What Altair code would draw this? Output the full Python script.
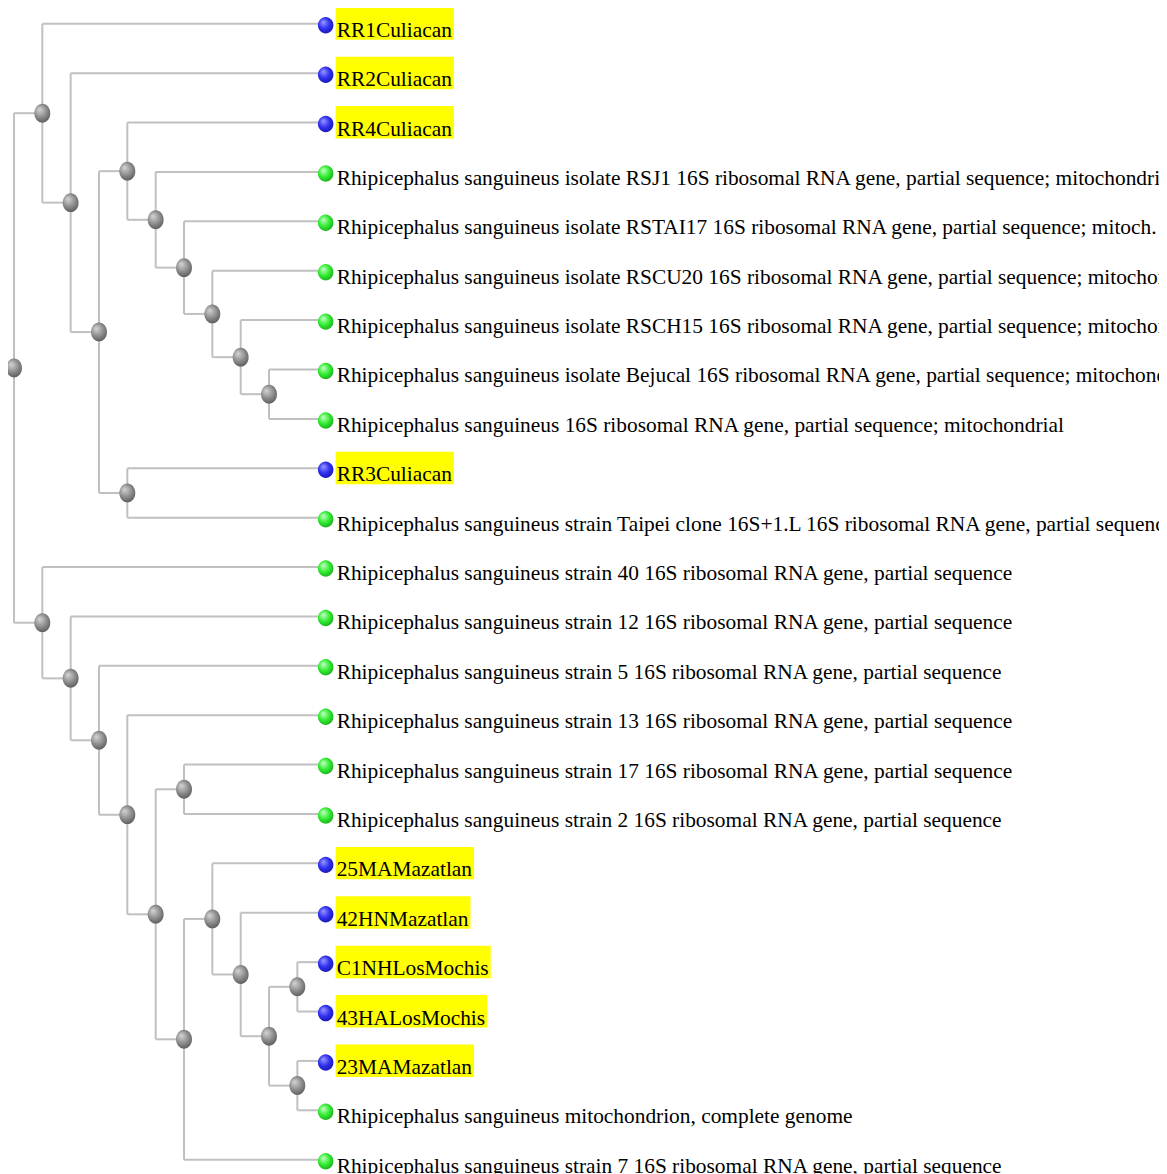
import altair as alt
import pandas as pd

# ---------------- data ----------------
labels = [
    "RR1Culiacan",
    "RR2Culiacan",
    "RR4Culiacan",
    "Rhipicephalus sanguineus isolate RSJ1 16S ribosomal RNA gene, partial sequence; mitochondrial",
    "Rhipicephalus sanguineus isolate RSTAI17 16S ribosomal RNA gene, partial sequence; mitoch.",
    "Rhipicephalus sanguineus isolate RSCU20 16S ribosomal RNA gene, partial sequence; mitochondrial",
    "Rhipicephalus sanguineus isolate RSCH15 16S ribosomal RNA gene, partial sequence; mitochondrial",
    "Rhipicephalus sanguineus isolate Bejucal 16S ribosomal RNA gene, partial sequence; mitochondrial",
    "Rhipicephalus sanguineus 16S ribosomal RNA gene, partial sequence; mitochondrial",
    "RR3Culiacan",
    "Rhipicephalus sanguineus strain Taipei clone 16S+1.L 16S ribosomal RNA gene, partial sequence",
    "Rhipicephalus sanguineus strain 40 16S ribosomal RNA gene, partial sequence",
    "Rhipicephalus sanguineus strain 12 16S ribosomal RNA gene, partial sequence",
    "Rhipicephalus sanguineus strain 5 16S ribosomal RNA gene, partial sequence",
    "Rhipicephalus sanguineus strain 13 16S ribosomal RNA gene, partial sequence",
    "Rhipicephalus sanguineus strain 17 16S ribosomal RNA gene, partial sequence",
    "Rhipicephalus sanguineus strain 2 16S ribosomal RNA gene, partial sequence",
    "25MAMazatlan",
    "42HNMazatlan",
    "C1NHLosMochis",
    "43HALosMochis",
    "23MAMazatlan",
    "Rhipicephalus sanguineus mitochondrion, complete genome",
    "Rhipicephalus sanguineus strain 7 16S ribosomal RNA gene, partial sequence",
]
is_query = [1, 1, 1, 0, 0, 0, 0, 0, 0, 1, 0,
            0, 0, 0, 0, 0, 0, 1, 1, 1, 1, 1, 0, 0]
# tree topology, leaves referred to by their index in `labels`
newick = ("((0,(1,((2,(3,(4,(5,(6,(7,8)))))),(9,10)))),"
          "(11,(12,(13,(14,((15,16),((17,(18,((19,20),(21,22)))),23)))))))")

# Times / Liberation Serif advance widths (1/1000 em) for highlight boxes
times_w = {
    "0": 500, "1": 500, "2": 500, "3": 500, "4": 500, "5": 500, "6": 500,
    "7": 500, "8": 500, "9": 500, "A": 722, "C": 667, "H": 722, "L": 611,
    "M": 889, "N": 722, "R": 667, "a": 444, "c": 444, "h": 500, "i": 278,
    "l": 278, "n": 500, "o": 500, "s": 389, "t": 278, "u": 500, "z": 444,
}

# ---------------- layout ----------------
W, H = 1152, 1166
X0, DX = 6.0, 28.36
Y0, DY = 15.3, 49.43
FONT = 21.4


def parse(s):
    pos = 0

    def node():
        nonlocal pos
        if s[pos] == "(":
            pos += 1
            kids = [node()]
            while s[pos] == ",":
                pos += 1
                kids.append(node())
            pos += 1  # ')'
            return kids
        j = pos
        while s[pos].isdigit():
            pos += 1
        return int(s[j:pos])

    return node()


tree = parse(newick)


def max_depth(t, d=0):
    if isinstance(t, int):
        return d
    return max(max_depth(c, d + 1) for c in t)


LEAF_D = max_depth(tree)

internal, segs = [], []


def layout(t, d=0):
    if isinstance(t, int):
        return X0 + LEAF_D * DX, Y0 + t * DY
    pts = [layout(c, d + 1) for c in t]
    x = X0 + d * DX
    y = (pts[0][1] + pts[-1][1]) / 2
    segs.append({"x": x, "y": pts[0][1], "x2": x, "y2": pts[-1][1]})
    for cx, cy in pts:
        segs.append({"x": x, "y": cy, "x2": cx, "y2": cy})
    internal.append({"x": x, "y": y})
    return x, y


layout(tree)

leaf_x = X0 + LEAF_D * DX
leaves = pd.DataFrame({
    "label": labels,
    "query": is_query,
    "x": leaf_x,
    "y": [Y0 + i * DY for i in range(len(labels))],
})
hl = leaves[leaves["query"] == 1].copy()
hl["w"] = [sum(times_w[c] for c in s) * FONT / 1000 for s in hl["label"]]
hl["bx"] = hl["x"] + 10
hl["bx2"] = hl["x"] + 10 + hl["w"] + 3
hl["by"] = hl["y"] - 16.5
hl["by2"] = hl["y"] + 16

seg_df = pd.DataFrame(segs)
node_df = pd.DataFrame(internal)

xs = alt.Scale(domain=[0, W], range=[0, W], nice=False, zero=False)
ys = alt.Scale(domain=[0, H], range=[0, H], nice=False, zero=False)
X = lambda f: alt.X(f, type="quantitative", scale=xs, axis=None)
Y = lambda f: alt.Y(f, type="quantitative", scale=ys, axis=None)

ELL_N = "M -0.84,0 A 0.84,1 0 1,1 0.84,0 A 0.84,1 0 1,1 -0.84,0 Z"
ELL_L = "M -0.94,0 A 0.94,1 0 1,1 0.94,0 A 0.94,1 0 1,1 -0.94,0 Z"


def sphere(c0, c1, c2):
    return alt.RadialGradient(
        gradient="radial",
        x1=0.35, y1=0.3, r1=0.0, x2=0.45, y2=0.45, r2=0.62,
        stops=[alt.GradientStop(offset=0, color=c0),
               alt.GradientStop(offset=0.55, color=c1),
               alt.GradientStop(offset=1, color=c2)],
    )


lines = alt.Chart(seg_df).mark_rule(color="#c0c0c0", strokeWidth=2).encode(
    x=X("x"), y=Y("y"), x2="x2", y2="y2")

boxes = alt.Chart(hl).mark_rect(color="#ffff00").encode(
    x=X("bx"), x2="bx2", y=Y("by"), y2="by2")

text = alt.Chart(leaves).mark_text(
    font="Liberation Serif", fontSize=FONT, align="left", baseline="alphabetic",
    dx=11, dy=13, color="#000000", clip=True).encode(
    x=X("x"), y=Y("y"), text="label")

nodes = alt.Chart(node_df).mark_point(
    shape=ELL_N, size=361, filled=True, opacity=1, strokeWidth=0,
    fill=sphere("#d6d6d6", "#8c8c8c", "#525252")).encode(x=X("x"), y=Y("y"))

blue = alt.Chart(leaves[leaves["query"] == 1]).mark_point(
    shape=ELL_L, size=272, filled=True, opacity=1, strokeWidth=0, yOffset=1.5,
    fill=sphere("#9a9aff", "#2f2ff0", "#1515a5")).encode(x=X("x"), y=Y("y"))

green = alt.Chart(leaves[leaves["query"] == 0]).mark_point(
    shape=ELL_L, size=272, filled=True, opacity=1, strokeWidth=0, yOffset=1.5,
    fill=sphere("#c8ffc8", "#30ec30", "#18a418")).encode(x=X("x"), y=Y("y"))

chart = alt.layer(lines, boxes, text, nodes, blue, green).properties(
    width=W, height=H, autosize=alt.AutoSizeParams(type="none"), padding=0,
).configure_view(stroke=None)

chart.save("out.html", embed_options={"renderer": "svg", "actions": False})
